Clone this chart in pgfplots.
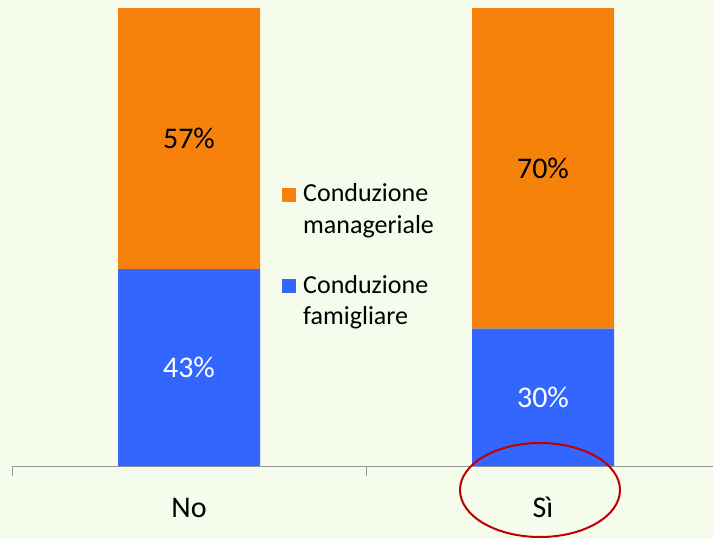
\documentclass[border=0pt]{standalone}
\usepackage{pgfplots}
\pgfplotsset{compat=1.18}
\usepackage{fontspec}
\setmainfont{Carlito}
\definecolor{bg}{RGB}{245,252,236}
\definecolor{org}{RGB}{246,130,12}
\definecolor{blu}{RGB}{51,102,255}
\definecolor{ell}{RGB}{192,0,0}
\definecolor{axg}{RGB}{150,150,150}
\begin{document}
\begin{tikzpicture}
\fill[bg] (-12pt,-73pt) rectangle (701pt,466pt);
\path[use as bounding box] (-12pt,-73pt) rectangle (701pt,466pt);
\begin{axis}[
  at={(0pt,0pt)}, anchor=south west,
  scale only axis, width=708pt, height=458pt,
  xmin=-0.5, xmax=1.5, ymin=0, ymax=100,
  ybar stacked, bar width=142pt,
  axis x line*=bottom, axis y line=none,
  x axis line style={draw=axg, line width=0.8pt, -},
  xtick={0,1}, xticklabels={No,Sì},
  major tick length=0pt,
  extra x ticks={-0.5,0.5,1.5}, extra x tick labels={},
  extra x tick style={major tick length=10pt, tick align=outside, tick style={draw=axg, line width=0.8pt}},
  xticklabel style={font=\fontsize{30}{36}\selectfont, anchor=base, yshift=-51pt, inner sep=0pt},
  clip=false,
]
\addplot[fill=blu, draw=none] coordinates {(0,43) (1,30)};
\addplot[fill=org, draw=none] coordinates {(0,57) (1,70)};
\end{axis}
\begin{axis}[
  at={(0pt,0pt)}, anchor=south west,
  scale only axis, width=708pt, height=458pt,
  xmin=-0.5, xmax=1.5, ymin=0, ymax=100,
  hide axis, clip=false,
]
\addplot[draw=none, mark=none, nodes near coords, point meta=explicit symbolic,
  nodes near coords style={anchor=center, text=black, font=\fontsize{30}{36}\selectfont}]
  coordinates {(0,71.5)[57\%] (1,65)[70\%]};
\addplot[draw=none, mark=none, nodes near coords, point meta=explicit symbolic,
  nodes near coords style={anchor=center, text=white, font=\fontsize{30}{36}\selectfont}]
  coordinates {(0,21.5)[43\%] (1,15)[30\%]};
\end{axis}
% legend
\fill[org] (270pt,264pt) rectangle (284pt,278pt);
\node[anchor=base west, inner sep=0pt, font=\fontsize{26}{31}\selectfont] at (291pt,264pt) {Conduzione};
\node[anchor=base west, inner sep=0pt, font=\fontsize{26}{31}\selectfont] at (291pt,233pt) {manageriale};
\fill[blu] (270pt,173pt) rectangle (284pt,187pt);
\node[anchor=base west, inner sep=0pt, font=\fontsize{26}{31}\selectfont] at (291pt,173pt) {Conduzione};
\node[anchor=base west, inner sep=0pt, font=\fontsize{26}{31}\selectfont] at (291pt,142pt) {famigliare};
% highlight ellipse
\draw[ell, line width=2pt] (528pt,-24pt) ellipse [x radius=80pt, y radius=47pt];
\end{tikzpicture}
\end{document}
